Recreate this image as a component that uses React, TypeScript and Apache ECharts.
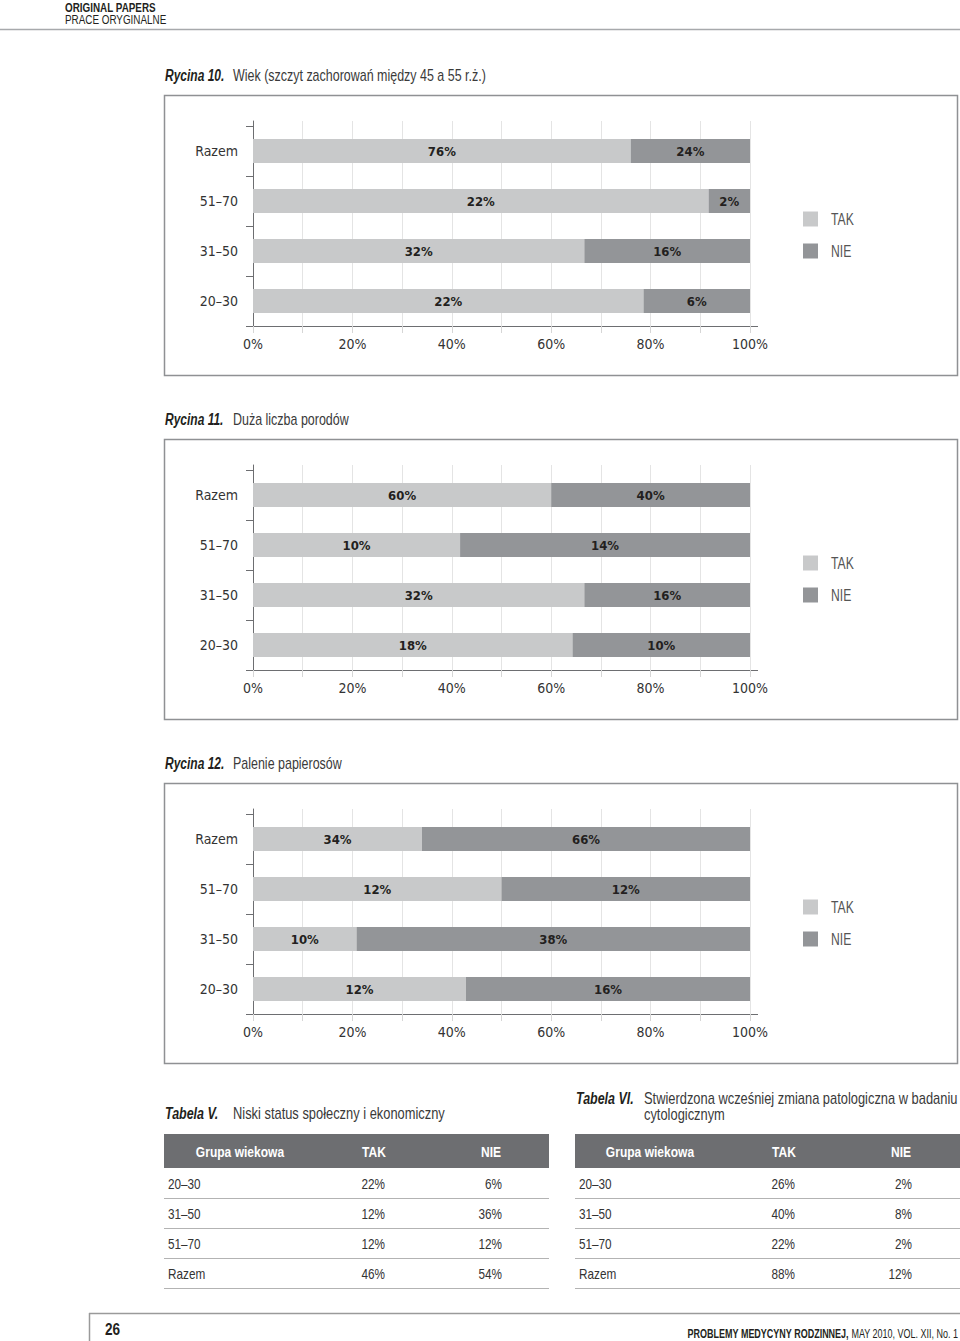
import React, { useEffect, useRef } from "react";
import * as echarts from "echarts";

// ---------- data ----------
const categories = ["20–30", "31–50", "51–70", "Razem"];
const seriesNames = ["TAK", "NIE"];

const fig10Title = "Wiek (szczyt zachorowań między 45 a 55 r.ż.)";
const fig10Tak = [22, 32, 22, 76];
const fig10Nie = [6, 16, 2, 24];

const fig11Title = "Duża liczba porodów";
const fig11Tak = [18, 32, 10, 60];
const fig11Nie = [10, 16, 14, 40];

const fig12Title = "Palenie papierosów";
const fig12Tak = [12, 10, 12, 34];
const fig12Nie = [16, 38, 12, 66];

const xTicks = [0, 20, 40, 60, 80, 100];

const tableHeader = ["Grupa wiekowa", "TAK", "NIE"];
const tableGroups = ["20–30", "31–50", "51–70", "Razem"];
const tableVTitle = "Niski status społeczny i ekonomiczny";
const tableVTak = ["22%", "12%", "12%", "46%"];
const tableVNie = ["6%", "36%", "12%", "54%"];
const tableVITitle1 = "Stwierdzona wcześniej zmiana patologiczna w badaniu";
const tableVITitle2 = "cytologicznym";
const tableVITak = ["26%", "40%", "22%", "88%"];
const tableVINie = ["2%", "8%", "2%", "12%"];

// ---------- style ----------
const AXFONT = "'DejaVu Sans Condensed', 'Liberation Sans Narrow', sans-serif";
const GFONT = "'Liberation Sans', Arial, sans-serif";
const LIGHT = "#c8c9ca";
const DARK = "#939598";
const AXIS = "#6d6e71";
const GRIDC = "#e4e4e4";
const TEXT = "#333333";

const PLOT_LEFT = 253;
const PLOT_W = 497;
const PLOT_H = 200;

const figs = [
  { num: "Rycina 10.", title: fig10Title, tak: fig10Tak, nie: fig10Nie, box: 95 },
  { num: "Rycina 11.", title: fig11Title, tak: fig11Tak, nie: fig11Nie, box: 439 },
  { num: "Rycina 12.", title: fig12Title, tak: fig12Tak, nie: fig12Nie, box: 783 },
];

// condensed-looking graphic text
function txt(
  x: number,
  y: number,
  text: string,
  o: { size?: number; weight?: string; style?: string; fill?: string; align?: string; sx?: number } = {}
) {
  return {
    type: "text",
    x,
    y,
    scaleX: o.sx ?? 0.78,
    style: {
      text,
      fontFamily: GFONT,
      fontSize: o.size ?? 14,
      fontWeight: o.weight ?? "normal",
      fontStyle: o.style ?? "normal",
      fill: o.fill ?? TEXT,
      align: o.align ?? "left",
      verticalAlign: "middle",
    },
  };
}

function buildOption() {
  const grid: any[] = [];
  const xAxis: any[] = [];
  const yAxis: any[] = [];
  const series: any[] = [];
  const graphic: any[] = [];

  // page header
  graphic.push(
    txt(65, 7.5, "ORIGINAL PAPERS", { size: 13, weight: "bold", fill: "#231f20", sx: 0.76 }),
    txt(65, 19.5, "PRACE ORYGINALNE", { size: 13, fill: "#231f20", sx: 0.76 }),
    { type: "line", shape: { x1: 0, y1: 29.5, x2: 960, y2: 29.5 }, style: { stroke: "#a7a9ac", lineWidth: 1.5 } }
  );

  figs.forEach((f, i) => {
    const gTop = f.box + 31;
    const axisY = gTop + PLOT_H;
    grid.push({ left: PLOT_LEFT, top: gTop, width: PLOT_W, height: PLOT_H, containLabel: false });
    grid.push({ left: PLOT_LEFT, top: gTop - 5, width: PLOT_W, height: 5, containLabel: false });

    const gi = i * 2;
    xAxis.push({
      type: "value",
      gridIndex: gi,
      min: 0,
      max: 100,
      interval: 10,
      axisLine: { show: true, lineStyle: { color: AXIS, width: 1 } },
      axisTick: { show: true, length: 7, lineStyle: { color: "#d6d6d6" } },
      splitLine: { show: true, lineStyle: { color: GRIDC, width: 1 } },
      axisLabel: {
        margin: 11,
        fontFamily: AXFONT,
        fontSize: 14,
        color: TEXT,
        formatter: (v: number) => (xTicks.includes(v) ? `${v}%` : ""),
      },
    });
    yAxis.push({
      type: "category",
      gridIndex: gi,
      data: categories,
      axisLine: { show: true, lineStyle: { color: AXIS, width: 1 } },
      axisTick: { show: true, length: 7, lineStyle: { color: AXIS } },
      axisLabel: { margin: 15, fontFamily: AXFONT, fontSize: 14, color: TEXT },
      splitLine: { show: false },
    });
    xAxis.push({
      type: "value",
      gridIndex: gi + 1,
      min: 0,
      max: 100,
      interval: 10,
      axisLine: { show: false },
      axisTick: { show: false },
      axisLabel: { show: false },
      splitLine: { show: true, lineStyle: { color: GRIDC, width: 1 } },
    });
    yAxis.push({
      type: "category",
      gridIndex: gi + 1,
      data: [""],
      axisLine: { show: true, lineStyle: { color: AXIS, width: 1 } },
      axisTick: { show: false },
      axisLabel: { show: false },
    });

    const totals = f.tak.map((t, k) => t + f.nie[k]);
    const raws = [f.tak, f.nie];
    [0, 1].forEach((s) => {
      series.push({
        type: "bar",
        name: seriesNames[s],
        xAxisIndex: gi,
        yAxisIndex: gi,
        stack: `fig${i}`,
        barWidth: 24,
        itemStyle: { color: s === 0 ? LIGHT : DARK },
        label: {
          show: true,
          position: "inside",
          fontFamily: AXFONT,
          fontWeight: "bold",
          fontSize: 13,
          color: "#231f20",
          formatter: (p: any) => `${raws[s][p.dataIndex]}%`,
        },
        data: raws[s].map((v, k) => (v / totals[k]) * 100),
      });
    });

    // title
    graphic.push(
      txt(165, f.box - 20, f.num, { size: 16, weight: "bold", style: "italic", fill: "#231f20", sx: 0.75 }),
      txt(233, f.box - 20, f.title, { size: 16, fill: "#3a3a3a", sx: 0.78 })
    );
    // box
    graphic.push({
      type: "rect",
      shape: { x: 164.5, y: f.box + 0.5, width: 793, height: 280 },
      style: { fill: "none", stroke: "#8f9194", lineWidth: 1.5 },
      z: -1,
    });
    // axis extensions
    graphic.push(
      { type: "line", shape: { x1: PLOT_LEFT + PLOT_W, y1: axisY + 0.5, x2: PLOT_LEFT + PLOT_W + 8, y2: axisY + 0.5 }, style: { stroke: AXIS, lineWidth: 1 } },
      { type: "line", shape: { x1: PLOT_LEFT + 0.5, y1: axisY, x2: PLOT_LEFT + 0.5, y2: axisY + 7 }, style: { stroke: AXIS, lineWidth: 1 } }
    );
    // legend
    const ly = f.box + 124;
    graphic.push(
      { type: "rect", shape: { x: 803, y: ly - 7.5, width: 15, height: 15 }, style: { fill: LIGHT } },
      txt(831, ly, seriesNames[0], { size: 16, fill: "#555", sx: 0.76 }),
      { type: "rect", shape: { x: 803, y: ly + 24.5, width: 15, height: 15 }, style: { fill: DARK } },
      txt(831, ly + 32, seriesNames[1], { size: 16, fill: "#555", sx: 0.76 })
    );
  });

  // tables
  const tables = [
    {
      x0: 164, x1: 549, titleNum: "Tabela V.", titleX: 233, titleLines: [tableVTitle], titleY: 1113,
      cols: [240, 374, 491], tRight: 385, nRight: 502, firstX: 168, tak: tableVTak, nie: tableVNie,
    },
    {
      x0: 575, x1: 960, titleNum: "Tabela VI.", titleX: 644, titleLines: [tableVITitle1, tableVITitle2], titleY: 1098,
      cols: [650, 784, 901], tRight: 795, nRight: 912, firstX: 579, tak: tableVITak, nie: tableVINie,
    },
  ];
  tables.forEach((t) => {
    graphic.push(txt(t.x0 + 1, t.titleY, t.titleNum, { size: 16, weight: "bold", style: "italic", fill: "#231f20", sx: 0.78 }));
    t.titleLines.forEach((ln, k) => {
      graphic.push(txt(t.titleX, t.titleY + k * 16, ln, { size: 16, fill: "#3a3a3a", sx: 0.805 }));
    });
    graphic.push({
      type: "rect",
      shape: { x: t.x0, y: 1134, width: t.x1 - t.x0, height: 34 },
      style: { fill: "#6d6e71" },
    });
    tableHeader.forEach((h, k) => {
      graphic.push(txt(t.cols[k], 1152, h, { size: 14, weight: "bold", fill: "#ffffff", align: "center", sx: 0.86 }));
    });
    tableGroups.forEach((g, r) => {
      const cy = 1184 + r * 30;
      graphic.push(
        txt(t.firstX, cy, g, { size: 14, sx: 0.84 }),
        txt(t.tRight, cy, t.tak[r], { size: 14, align: "right", sx: 0.84 }),
        txt(t.nRight, cy, t.nie[r], { size: 14, align: "right", sx: 0.84 }),
        { type: "line", shape: { x1: t.x0, y1: cy + 14.5, x2: t.x1, y2: cy + 14.5 }, style: { stroke: "#b3b3b3", lineWidth: 1 } }
      );
    });
  });

  // footer
  graphic.push(
    { type: "line", shape: { x1: 89, y1: 1313.5, x2: 960, y2: 1313.5 }, style: { stroke: "#9a9a9a", lineWidth: 1.5 } },
    { type: "line", shape: { x1: 89.5, y1: 1313, x2: 89.5, y2: 1341 }, style: { stroke: "#9a9a9a", lineWidth: 1.5 } },
    txt(105, 1329, "26", { size: 17, weight: "bold", fill: "#231f20", sx: 0.8 }),
    {
      type: "text",
      x: 958,
      y: 1333,
      scaleX: 0.75,
      style: {
        text: "{b|PROBLEMY MEDYCYNY RODZINNEJ,} {n|MAY 2010, VOL. XII, No. 1}",
        align: "right",
        verticalAlign: "middle",
        rich: {
          b: { fontFamily: GFONT, fontWeight: "bold", fontSize: 12, fill: "#231f20" },
          n: { fontFamily: GFONT, fontSize: 12, fill: "#231f20" },
        },
      },
    }
  );

  return {
    animation: false,
    backgroundColor: "#ffffff",
    textStyle: { fontFamily: AXFONT },
    grid,
    xAxis,
    yAxis,
    series,
    graphic,
  };
}

export default function App() {
  const ref = useRef<HTMLDivElement>(null);
  useEffect(() => {
    if (!ref.current) return;
    const chart = echarts.init(ref.current, undefined, { renderer: "svg" });
    chart.setOption(buildOption() as any);
    return () => chart.dispose();
  }, []);
  return (
    <div
      ref={ref}
      style={{ position: "absolute", left: 0, top: 0, width: 960, height: 1341, background: "#fff" }}
    />
  );
}
